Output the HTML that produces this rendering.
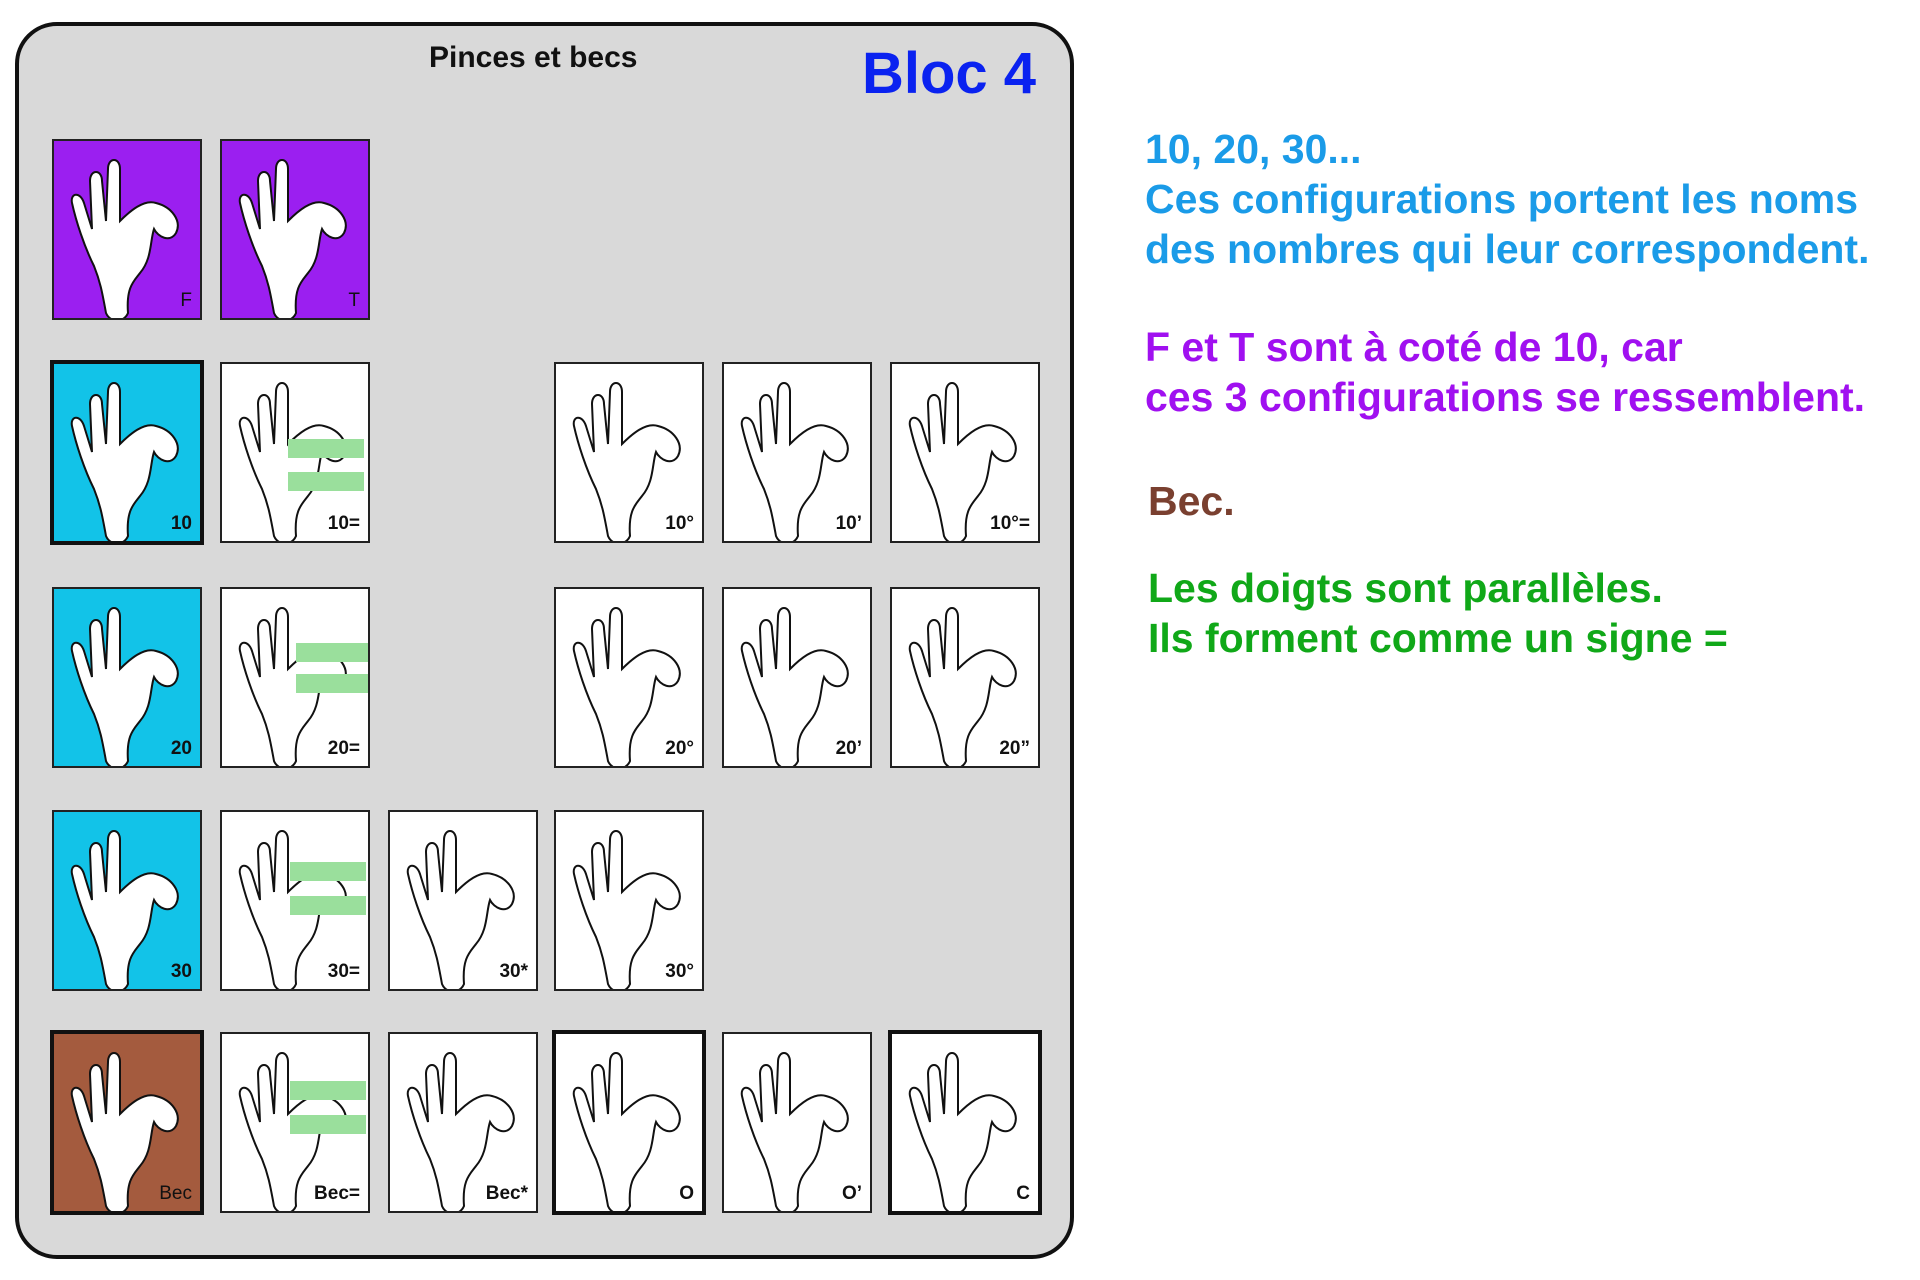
<!DOCTYPE html>
<html><head><meta charset="utf-8">
<style>
*{margin:0;padding:0;box-sizing:border-box}
body{width:1920px;height:1280px;background:#fff;position:relative;overflow:hidden;font-family:"Liberation Sans",sans-serif}
#panel{position:absolute;left:15px;top:22px;width:1059px;height:1237px;background:#d9d9d9;border:4px solid #111;border-radius:42px}
.t{position:absolute;font-weight:bold;white-space:nowrap}
.card{position:absolute;width:150px;height:181px;background:#fff;border:2px solid #222;overflow:hidden}
.card.thick{border:4px solid #111}
.card svg{position:absolute;left:0;top:0}
.lab{position:absolute;right:8px;bottom:6px;font-weight:bold;font-size:19px;color:#111}
.g{position:absolute;background:#9adf9c;height:19px}
.txt{position:absolute;left:1145px;font-weight:bold;font-size:41px;white-space:nowrap;line-height:50px}
</style></head><body>
<svg width="0" height="0" style="position:absolute">
<defs>
<symbol id="h" viewBox="0 0 150 181">
<path d="M52 172 C48 150 46 140 40 125 C30 105 22 80 18 62 C16 52 26 50 30 62 L38 88 L36 40 C36 28 48 28 48 40 L52 80 L54 28 C54 16 66 16 66 28 L66 80 C76 70 90 58 102 62 C118 66 128 80 122 92 C116 102 104 96 100 88 C96 100 98 118 86 132 C80 140 72 146 74 172 C70 182 56 182 52 172 Z" fill="#fff" stroke="#111" stroke-width="2"/>
</symbol>
</defs></svg>
<div id="panel"></div>
<div class="t" style="left:429px;top:41px;font-size:30px;color:#111">Pinces et becs</div>
<div class="t" style="left:862px;top:40px;font-size:58px;color:#0a22f0">Bloc 4</div>

<!-- row 1 -->
<div class="card" style="left:52px;top:139px;background:#9b1ff0"><svg width="150" height="181"><use href="#h"/></svg><span class="lab" style="font-weight:normal">F</span></div>
<div class="card" style="left:220px;top:139px;background:#9b1ff0"><svg width="150" height="181"><use href="#h"/></svg><span class="lab" style="font-weight:normal">T</span></div>

<!-- row 2 -->
<div class="card thick" style="left:50px;top:360px;width:154px;height:185px;background:#12c3e8"><svg width="150" height="181"><use href="#h"/></svg><span class="lab">10</span></div>
<div class="card" style="left:220px;top:362px"><svg width="150" height="181"><use href="#h"/></svg><div class="g" style="left:66px;top:75px;width:76px"></div><div class="g" style="left:66px;top:108px;width:76px"></div><span class="lab">10=</span></div>
<div class="card" style="left:554px;top:362px"><svg width="150" height="181"><use href="#h"/></svg><span class="lab">10°</span></div>
<div class="card" style="left:722px;top:362px"><svg width="150" height="181"><use href="#h"/></svg><span class="lab">10’</span></div>
<div class="card" style="left:890px;top:362px"><svg width="150" height="181"><use href="#h"/></svg><span class="lab">10°=</span></div>

<!-- row 3 -->
<div class="card" style="left:52px;top:587px;background:#12c3e8"><svg width="150" height="181"><use href="#h"/></svg><span class="lab">20</span></div>
<div class="card" style="left:220px;top:587px"><svg width="150" height="181"><use href="#h"/></svg><div class="g" style="left:74px;top:54px;width:76px"></div><div class="g" style="left:74px;top:85px;width:76px"></div><span class="lab">20=</span></div>
<div class="card" style="left:554px;top:587px"><svg width="150" height="181"><use href="#h"/></svg><span class="lab">20°</span></div>
<div class="card" style="left:722px;top:587px"><svg width="150" height="181"><use href="#h"/></svg><span class="lab">20’</span></div>
<div class="card" style="left:890px;top:587px"><svg width="150" height="181"><use href="#h"/></svg><span class="lab">20”</span></div>

<!-- row 4 -->
<div class="card" style="left:52px;top:810px;background:#12c3e8"><svg width="150" height="181"><use href="#h"/></svg><span class="lab">30</span></div>
<div class="card" style="left:220px;top:810px"><svg width="150" height="181"><use href="#h"/></svg><div class="g" style="left:68px;top:50px;width:76px"></div><div class="g" style="left:68px;top:84px;width:76px"></div><span class="lab">30=</span></div>
<div class="card" style="left:388px;top:810px"><svg width="150" height="181"><use href="#h"/></svg><span class="lab">30*</span></div>
<div class="card" style="left:554px;top:810px"><svg width="150" height="181"><use href="#h"/></svg><span class="lab">30°</span></div>

<!-- row 5 -->
<div class="card thick" style="left:50px;top:1030px;width:154px;height:185px;background:#a45b3e"><svg width="150" height="181"><use href="#h"/></svg><span class="lab" style="font-weight:normal">Bec</span></div>
<div class="card" style="left:220px;top:1032px"><svg width="150" height="181"><use href="#h"/></svg><div class="g" style="left:68px;top:47px;width:76px"></div><div class="g" style="left:68px;top:81px;width:76px"></div><span class="lab">Bec=</span></div>
<div class="card" style="left:388px;top:1032px"><svg width="150" height="181"><use href="#h"/></svg><span class="lab">Bec*</span></div>
<div class="card thick" style="left:552px;top:1030px;width:154px;height:185px"><svg width="150" height="181"><use href="#h"/></svg><span class="lab">O</span></div>
<div class="card" style="left:722px;top:1032px"><svg width="150" height="181"><use href="#h"/></svg><span class="lab">O’</span></div>
<div class="card thick" style="left:888px;top:1030px;width:154px;height:185px"><svg width="150" height="181"><use href="#h"/></svg><span class="lab">C</span></div>

<div class="txt" style="top:124px;color:#1a9be8">10, 20, 30...<br>Ces configurations portent les noms<br>des nombres qui leur correspondent.</div>
<div class="txt" style="top:322px;color:#a010f0">F et T sont à coté de 10, car<br>ces 3 configurations se ressemblent.</div>
<div class="txt" style="top:476px;left:1148px;color:#7a4030">Bec.</div>
<div class="txt" style="top:563px;left:1148px;color:#10a818">Les doigts sont parallèles.<br>Ils forment comme un signe =</div>
</body></html>
